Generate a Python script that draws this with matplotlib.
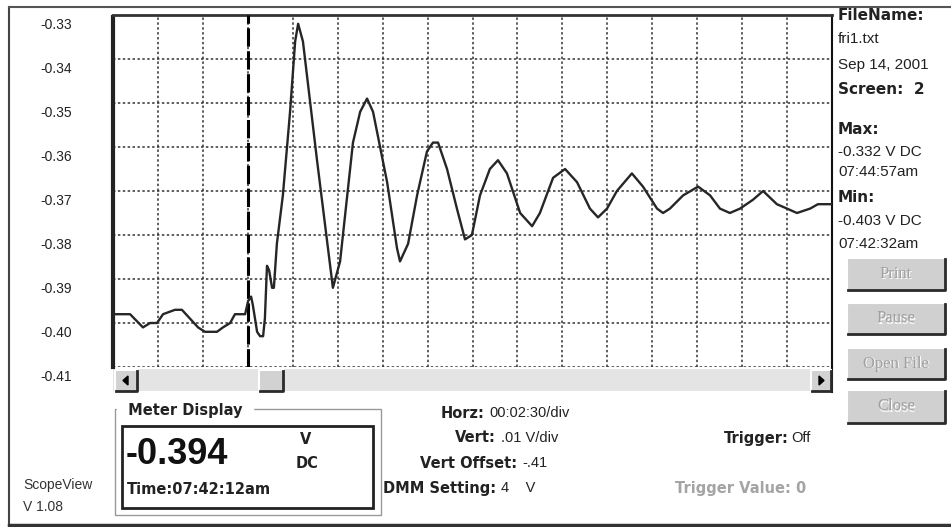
import matplotlib.pyplot as plt
from matplotlib.patches import Rectangle, Polygon
from matplotlib.transforms import ScaledTranslation

# scope trace, seconds from the left edge of the screen, volts DC
t_sec = [0, 57, 100, 124, 147, 167, 207, 230, 257, 284, 307, 347, 367, 391, 407, 441,
         451, 461, 467, 481, 491, 501, 507, 514, 521, 531, 537, 547, 567, 591, 608, 618,
         634, 681, 734, 758, 801, 825, 848, 868, 915, 948, 958, 985, 1015, 1048, 1068,
         1085, 1115, 1148, 1175, 1198, 1225, 1258, 1285, 1315, 1359, 1399, 1425, 1469,
         1509, 1549, 1592, 1619, 1649, 1682, 1732, 1769, 1816, 1836, 1859, 1903, 1953,
         1993, 2026, 2059, 2093, 2136, 2170, 2216, 2250, 2283, 2327, 2353, 2400]
volts = [-0.398, -0.398, -0.401, -0.400, -0.400, -0.398, -0.397, -0.397, -0.399, -0.401,
         -0.402, -0.402, -0.401, -0.400, -0.398, -0.398, -0.395, -0.394, -0.396, -0.402,
         -0.403, -0.403, -0.399, -0.387, -0.388, -0.392, -0.392, -0.382, -0.371, -0.352,
         -0.336, -0.332, -0.336, -0.363, -0.392, -0.386, -0.359, -0.352, -0.349, -0.352,
         -0.368, -0.383, -0.386, -0.382, -0.371, -0.361, -0.359, -0.359, -0.365, -0.374,
         -0.381, -0.380, -0.371, -0.365, -0.363, -0.366, -0.375, -0.378, -0.375, -0.367,
         -0.365, -0.368, -0.374, -0.376, -0.374, -0.370, -0.366, -0.369, -0.374, -0.375,
         -0.374, -0.371, -0.369, -0.371, -0.374, -0.375, -0.374, -0.372, -0.370, -0.373,
         -0.374, -0.375, -0.374, -0.373, -0.373]

sec_per_div = 150          # 00:02:30/div
n_div = 16
cursor_sec = 450
y_ticks = [-0.33, -0.34, -0.35, -0.36, -0.37, -0.38, -0.39, -0.40, -0.41]
y_labels = ['-0.33', '-0.34', '-0.35', '-0.36', '-0.37', '-0.38', '-0.39', '-0.40', '-0.41']

info_lines = [('FileName:', True, 16), ('fri1.txt', False, 39), ('Sep 14, 2001', False, 65),
              ('Screen:  2', True, 90), ('Max:', True, 129), ('-0.332 V DC', False, 152),
              ('07:44:57am', False, 172), ('Min:', True, 197), ('-0.403 V DC', False, 221),
              ('07:42:32am', False, 244)]
buttons = [('Print', 258, 290), ('Pause', 303, 334), ('Open File', 348, 379), ('Close', 390, 423)]

SANS = 'Liberation Sans'
BOLD = 'DejaVu Sans'

W, H = 951, 527
fig = plt.figure(figsize=(W / 100, H / 100), dpi=100)
fig.patch.set_facecolor('white')

# whole window, drawn in pixel coordinates
ui = fig.add_axes([0, 0, 1, 1])
ui.set_xlim(0, W)
ui.set_ylim(H, 0)
ui.axis('off')


def bevel(x0, y0, x1, y1, face='#d2d2d2'):
    ui.add_patch(Rectangle((x0, y0), x1 - x0, y1 - y0, facecolor=face, edgecolor='none'))
    ui.plot([x0, x0, x1], [y1, y0, y0], color='white', lw=1.5)
    ui.plot([x0 + 1, x1, x1], [y1, y1, y0 + 1], color='#2a2a2a', lw=2)


# window frame
ui.plot([9, 9], [7, 525], color='#444', lw=1.5)
ui.plot([9, W], [7, 7], color='#555', lw=1.5)
ui.plot([9, W], [525, 525], color='#333', lw=2.5)

# plot area
px0, px1, py0, py1 = 113, 832, 15, 367
ax = fig.add_axes([px0 / W, 1 - py1 / H, (px1 - px0) / W, (py1 - py0) / H])
ax.set_facecolor('white')
ax.plot(t_sec, volts, color='#262626', lw=1.7, zorder=4)
ax.axvline(cursor_sec, color='black', lw=2.2, ls=(0, (6, 1.5)), zorder=3)
ax.set_xlim(0, n_div * sec_per_div)
ax.set_ylim(min(y_ticks), max(y_ticks))
ax.set_xticks([i * sec_per_div for i in range(n_div + 1)])
ax.set_yticks(y_ticks)
ax.grid(True, color='#333', lw=1.1, ls=(0, (1.6, 1.6)))
ax.tick_params(length=0, labelbottom=False, labelleft=False)
ax.spines['bottom'].set_visible(False)
ax.spines['left'].set_linewidth(3)
ax.spines['left'].set_linestyle((0, (4, 1)))
ax.spines['left'].set_color('#222')
ax.spines['top'].set_linewidth(2)
ax.spines['top'].set_color('#333')
ax.spines['right'].set_linewidth(1.5)
ax.spines['right'].set_color('#111')

# y labels sit a little below their grid lines
lab_trans = ax.get_yaxis_transform() + ScaledTranslation(0, -0.10, fig.dpi_scale_trans)
for v, s in zip(y_ticks, y_labels):
    ax.text((72 - px0) / (px1 - px0), v, s, transform=lab_trans, ha='right', va='center',
            fontsize=10, family=SANS, color='#222', clip_on=False)

# scroll bar
ui.add_patch(Rectangle((px0, 369), px1 - px0, 22, facecolor='#e4e4e4', edgecolor='none'))
ui.plot([px1, px1], [py1, 392], color='#111', lw=1.5)
bevel(115, 370, 137, 391)
ui.add_patch(Polygon([[123, 380.5], [128, 376], [128, 385]], closed=True, color='black'))
bevel(259, 370, 283, 391)
bevel(811, 370, 831, 391)
ui.add_patch(Polygon([[824, 380.5], [819, 376], [819, 385]], closed=True, color='black'))

# info panel on the right
for txt, bold, y in info_lines:
    if bold:
        ui.text(838, y, txt, fontsize=11, family=BOLD, weight='bold', va='center', color='#222')
    else:
        ui.text(838, y, txt, fontsize=11, family=SANS, va='center', color='#222')

for label, y0, y1 in buttons:
    bevel(847, y0, 945, y1, face='#d0d0d0')
    cy = (y0 + y1) / 2
    ui.text(897, cy + 1, label, fontsize=12, family='Liberation Serif', ha='center',
            va='center', color='white')
    ui.text(896, cy, label, fontsize=12, family='Liberation Serif', ha='center',
            va='center', color='#a0a0a0')

# meter display group
ui.add_patch(Rectangle((115, 409), 266, 106, facecolor='none', edgecolor='#999', lw=1))
ui.text(123, 410, ' Meter Display ', fontsize=10.5, family=BOLD, weight='bold', va='center',
        color='#222', backgroundcolor='white')
ui.add_patch(Rectangle((122, 426), 251, 82, facecolor='white', edgecolor='#222', lw=2))
ui.text(126, 454, '-0.394', fontsize=26, family=SANS, weight='bold', va='center', color='#111')
ui.text(300, 440, 'V', fontsize=10.5, family=BOLD, weight='bold', va='center', color='#222')
ui.text(296, 463, 'DC', fontsize=10.5, family=BOLD, weight='bold', va='center', color='#222')
ui.text(127, 489, 'Time:07:42:12am', fontsize=10.5, family=BOLD, weight='bold', va='center',
        color='#222')

ui.text(23, 485, 'ScopeView', fontsize=10, family=SANS, va='center', color='#333')
ui.text(23, 507, 'V 1.08', fontsize=10, family=SANS, va='center', color='#333')

# scope settings
settings = [('Horz:', '00:02:30/div', 484, 413), ('Vert:', '.01 V/div', 496, 438),
            ('Vert Offset:', '-.41', 517, 463), ('DMM Setting:', '4    V', 496, 488)]
for lab, val, xr, y in settings:
    ui.text(xr, y, lab, fontsize=10.5, family=BOLD, weight='bold', ha='right', va='center',
            color='#222')
    ui.text(xr + 5, y, val, fontsize=10.5, family=SANS, va='center', color='#222')

ui.text(789, 438, 'Trigger:', fontsize=10.5, family=BOLD, weight='bold', ha='right',
        va='center', color='#222')
ui.text(791, 438, 'Off', fontsize=10.5, family=SANS, va='center', color='#222')
ui.text(675, 488, 'Trigger Value: 0', fontsize=10.5, family=BOLD, weight='bold', va='center',
        color='#a4a4a4')

ui.set_xlim(0, W)
ui.set_ylim(H, 0)
fig.savefig('out.png', dpi=100)
